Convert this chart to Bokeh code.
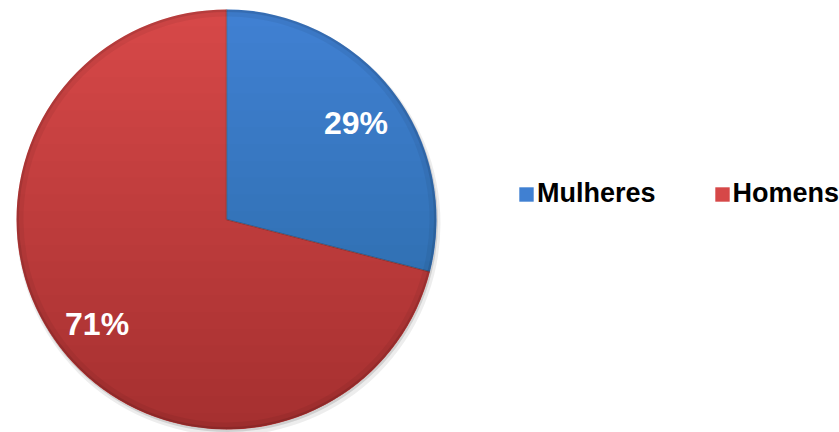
import numpy as np
from bokeh.plotting import figure
from bokeh.models import Legend, LegendItem, ColumnDataSource
from bokeh.embed import file_html
from bokeh.resources import INLINE
from bokeh.core.properties import value

# ---- data ----
categories = ["Mulheres", "Homens"]
shares = [29, 71]
labels = ["29%", "71%"]
colors = ["#4080d2", "#d64848"]

# ---- geometry (screen px == data units) ----
W, H = 839, 432
cx, cy, R = 226, 213, 210

fr = np.array(shares, dtype=float) / sum(shares)
cum = np.concatenate([[0], np.cumsum(fr)])
start = np.pi / 2 - 2 * np.pi * cum[:-1]
end = np.pi / 2 - 2 * np.pi * cum[1:]
mid = (start + end) / 2

p = figure(width=W, height=H, x_range=(0, W), y_range=(0, H),
           output_backend="svg", toolbar_location=None, min_border=0,
           x_axis_location=None, y_axis_location=None,
           outline_line_color=None, background_fill_color="white")
p.grid.visible = False

# soft shadow
p.circle(x=[cx + 2], y=[cy - 4], radius=R + 2, fill_color="black", fill_alpha=0.07, line_color=None)
p.circle(x=[cx + 1], y=[cy - 2], radius=R + 0.5, fill_color="black", fill_alpha=0.12, line_color=None)

src = ColumnDataSource(dict(x=[cx] * len(shares), y=[cy] * len(shares), start=start, end=end,
                            color=colors, cat=categories))
wr = p.wedge(x="x", y="y", radius=R, start_angle="start", end_angle="end", direction="clock",
             fill_color="color", line_color=None, source=src)

# vertical lighting: progressively darker towards the bottom
N = 24
ys = np.linspace(cy + R, cy - R, N + 2)[1:-1]
def cap_below(y0):
    t = np.linspace(np.arcsin(np.clip((y0 - cy) / R, -1, 1)), -np.pi / 2, 40)
    tt = np.concatenate([np.pi - t[::-1], t])
    return list(cx + R * np.cos(tt)), list(cy + R * np.sin(tt))

bx, by = [], []
for y0 in ys:
    a, b = cap_below(y0)
    bx.append(a); by.append(b)
p.patches(bx, by, fill_color="black", fill_alpha=0.0085, line_color=None)

# rim bevel
p.annular_wedge(x=[cx], y=[cy], inner_radius=R - 7, outer_radius=R, start_angle=0, end_angle=2 * np.pi,
                fill_color="black", fill_alpha=0.05, line_color=None)
p.annular_wedge(x=[cx], y=[cy], inner_radius=R - 2.5, outer_radius=R, start_angle=0, end_angle=2 * np.pi,
                fill_color="black", fill_alpha=0.10, line_color=None)

# seams between slices
seam_x = [[cx, cx + R * np.cos(a)] for a in start]
seam_y = [[cy, cy + R * np.sin(a)] for a in start]
p.multi_line(seam_x, seam_y, line_color="black", line_alpha=0.22, line_width=1.5)

# percentage labels
lr = 0.78 * R
p.text(x=list(cx + lr * np.cos(mid)), y=list(cy + lr * np.sin(mid) - 4), text=labels,
       text_font=value("Liberation Sans"), text_font_style="bold", text_font_size="32px",
       text_color="white", text_align="center", text_baseline="middle")

legend = Legend(items=[LegendItem(label=c, renderers=[wr], index=i) for i, c in enumerate(categories)],
                orientation="horizontal", location=(517, 223),
                glyph_width=18, glyph_height=18, label_standoff=2, spacing=57,
                label_text_font="Liberation Sans", label_text_font_style="bold",
                label_text_font_size="27px", label_text_color="black",
                padding=0, margin=0, border_line_alpha=0, background_fill_alpha=0)
p.add_layout(legend)

open("out.html", "w").write(file_html(p, INLINE))
